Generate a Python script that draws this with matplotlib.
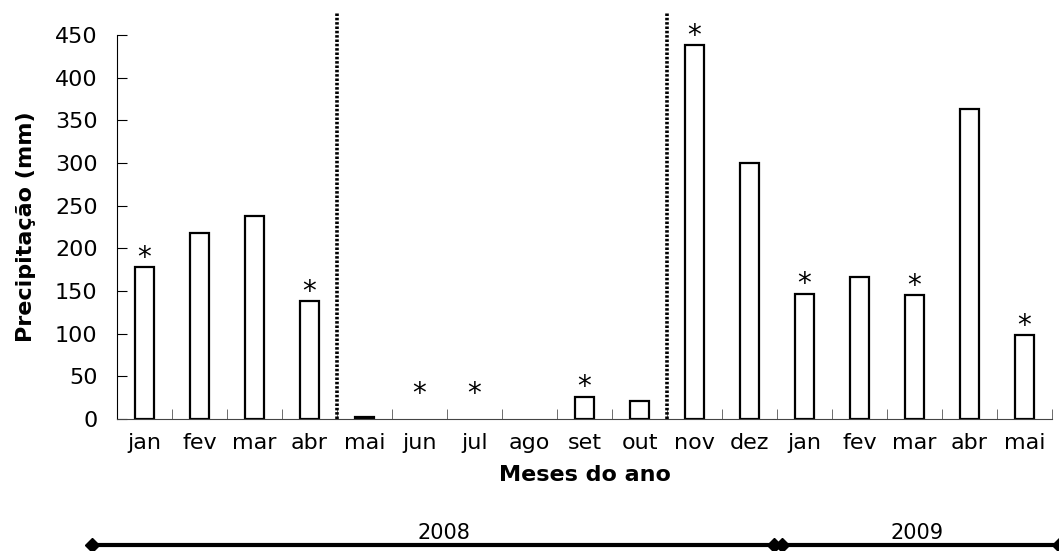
import numpy as np
import matplotlib.pyplot as plt
import matplotlib.transforms as mtransforms
from matplotlib.lines import Line2D

plt.rcParams['font.family'] = ['DejaVu Sans']

meses = ["jan", "fev", "mar", "abr", "mai", "jun", "jul", "ago", "set",
         "out", "nov", "dez", "jan", "fev", "mar", "abr", "mai"]
precip = [178, 218, 238, 138, 2, 0, 0, 0, 26, 21, 438, 300, 147, 166, 145, 363, 98]
signif = [1, 0, 0, 1, 0, 1, 1, 0, 1, 0, 1, 0, 1, 0, 1, 0, 1]
anos = ["2008", "2009"]

fig = plt.figure(figsize=(10.59, 5.51), dpi=100)
ax = fig.add_axes([0.1105, 0.2396, 0.8829, 0.6969])

x = np.arange(len(meses))
edges = ["black" if v > 0 else "none" for v in precip]
ax.bar(x, precip, width=0.34, color="white", edgecolor=edges, linewidth=1.6)

# asterisks for significant months
for xi, v, s in zip(x, precip, signif):
    if s:
        ax.annotate("*", (xi, max(v, 18)), xytext=(0, 1), textcoords="offset points",
                    ha="center", va="baseline", fontsize=20)

# dotted separators between periods
for sep in [3.5, 9.5]:
    ax.plot([sep, sep], [0, 477], color="black", linestyle=(0, (0.7, 0.5)),
            linewidth=2.6, clip_on=False)

ax.set_xlim(-0.5, len(meses) - 0.5)
ax.set_ylim(0, 450)
ax.set_yticks(np.arange(0, 451, 50))
ax.set_xticks(x)
ax.set_xticklabels(meses)
ax.set_xticks(np.arange(0.5, len(meses), 1), minor=True)
ax.tick_params(axis="x", which="major", length=0, labelsize=16, pad=10)
ax.tick_params(axis="x", which="minor", direction="in", length=7, color="#555555")
ax.tick_params(axis="y", labelsize=16, length=7, direction="in", pad=14)
ax.spines["top"].set_visible(False)
ax.spines["right"].set_visible(False)
ax.spines["bottom"].set_color("#444444")
ax.set_ylabel("Precipitação (mm)", fontsize=16, fontweight="bold", labelpad=14)
ax.set_xlabel("Meses do ano", fontsize=16, fontweight="bold", labelpad=9)

# year brackets below the axis
trans = mtransforms.blended_transform_factory(ax.transData, fig.transFigure)
for (x0, x1), xt, ano in zip([(-0.95, 11.45), (11.59, 16.63)], [5.45, 14.05], anos):
    fig.add_artist(Line2D([x0, x1], [0.011, 0.011], transform=trans, color="black",
                          linewidth=3, marker="D", markersize=7, clip_on=False))
    fig.text(xt, 0.032, ano, transform=trans, ha="center", va="center", fontsize=15)

fig.savefig("out.png", dpi=100)
